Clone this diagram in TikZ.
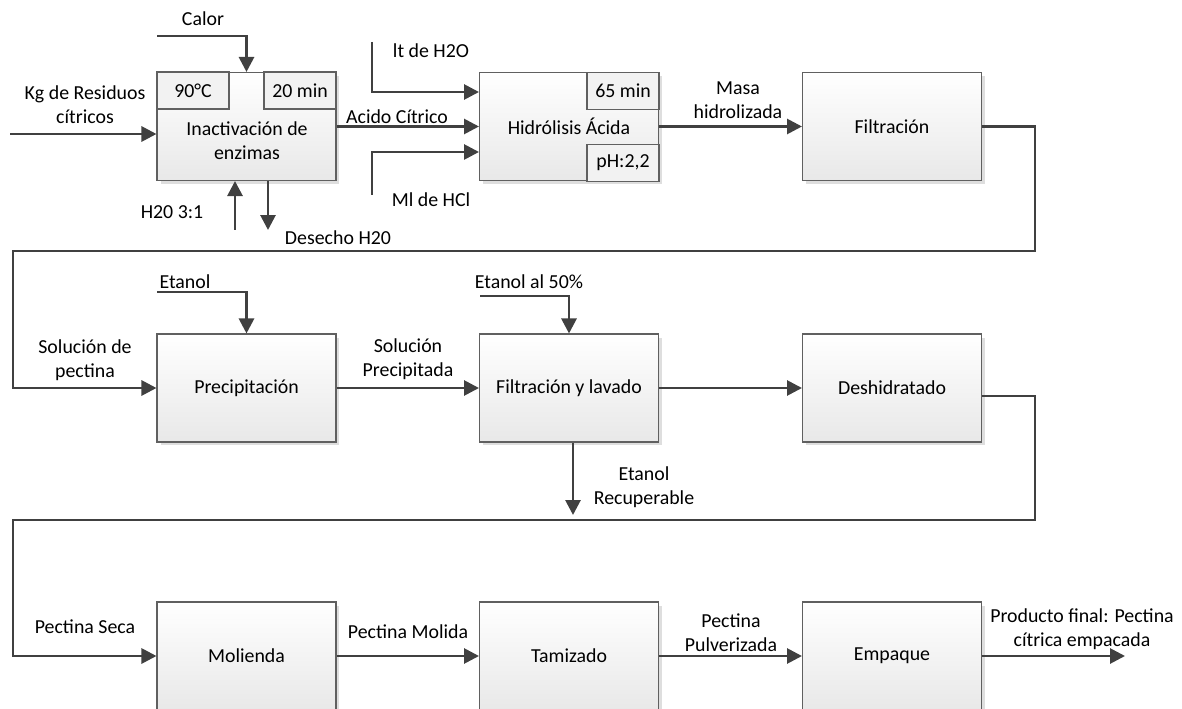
\documentclass[tikz,border=0pt]{standalone}
\usepackage{fontspec}
\setmainfont{Carlito}
\usepackage{tikz}
\usepackage{xcolor}
\usetikzlibrary{arrows.meta,shadows}

\definecolor{trazo}{HTML}{404040}
\definecolor{borde}{HTML}{606060}

\tikzset{
    etapa/.style={draw=borde, line width=0.6pt, top color=white, bottom color=black!9,
        minimum width=3.58cm, minimum height=2.16cm, align=center,
        general shadow={fill=black!13, shadow xshift=0.07cm, shadow yshift=-0.07cm}},
    dato/.style={draw=borde, line width=0.6pt, fill=black!5, inner sep=0pt,
        minimum width=1.44cm, minimum height=0.74cm},
    flujo/.style={draw=trazo, line width=1.6pt, -{Triangle[length=0.3cm,width=0.3cm]}},
    rotulo/.style={align=center, inner sep=0pt},
}

\begin{document}
\begin{tikzpicture}[x=0.02cm, y=-0.02cm, font=\fontsize{11.3}{13.6}\selectfont]
                \clip (0, 0) rectangle (1182, 709);
                % etapas del proceso
                \node[etapa] (inact) at (246.5, 126.5) {};
                \node[etapa] (hidro) at (569, 126.5) {Hidrólisis Ácida};
                \node[etapa] (filtr) at (892, 126.5) {Filtración};
                \node[etapa] (precip) at (246.5, 388) {Precipitación};
                \node[etapa] (filtlav) at (569, 388) {Filtración y lavado};
                \node[etapa] (deshid) at (892, 388) {Deshidratado};
                \node[etapa] (molienda) at (246.5, 656) {Molienda};
                \node[etapa] (tamiz) at (569, 656) {Tamizado};
                \node[etapa] (empaque) at (892, 656) {Empaque};
                \node[rotulo] (inacttxt) at (247, 141) {Inactivación de\\enzimas};
                % condiciones
                \node[dato] (temp) at (193, 90.5) {90°C};
                \node[dato] (tinact) at (300, 90.5) {20 min};
                \node[dato] (thidro) at (623, 91) {65 min};
                \node[dato] (ph) at (623, 163) {pH:2,2};
                % extremos libres
                \coordinate (calor0) at (157, 36);
                \coordinate (resid0) at (10, 134);
                \coordinate (agua0) at (235, 230);
                \coordinate (desecho1) at (268, 230);
                \coordinate (h2o0) at (372, 42);
                \coordinate (hcl0) at (372, 195);
                \coordinate (vuelta1) at (1035, 251);
                \coordinate (vuelta2) at (13, 251);
                \coordinate (etanol0) at (157, 292);
                \coordinate (etanol50) at (480, 296);
                \coordinate (recup) at (573, 515);
                \coordinate (vuelta3) at (1035, 520);
                \coordinate (vuelta4) at (13, 520);
                \coordinate (producto) at (1125, 656);
                % flujos
                \draw[flujo] (calor0) -| (inact.north);
                \draw[flujo] (resid0) -- (resid0 -| inact.west);
                \draw[flujo] (agua0) -- (agua0 |- inact.south);
                \draw[flujo] (desecho1 |- inact.south) -- (desecho1);
                \draw[flujo] (inact.east) -- (hidro.west);
                \draw[flujo] (h2o0) |- ([yshift=0.69cm]hidro.west);
                \draw[flujo] (hcl0) |- ([yshift=-0.51cm]hidro.west);
                \draw[flujo] (hidro.east) -- (filtr.west);
                \draw[flujo] (filtr.east) -| (vuelta1) -- (vuelta2) |- (precip.west);
                \draw[flujo] (etanol0) -| (precip.north);
                \draw[flujo] (precip.east) -- (filtlav.west);
                \draw[flujo] (etanol50) -| (filtlav.north);
                \draw[flujo] (filtlav.east) -- (deshid.west);
                \draw[flujo] (recup |- filtlav.south) -- (recup);
                \draw[flujo] ([yshift=-0.16cm]deshid.east) -| (vuelta3) -- (vuelta4) |- (molienda.west);
                \draw[flujo] (molienda.east) -- (tamiz.west);
                \draw[flujo] (tamiz.east) -- (empaque.west);
                \draw[flujo] (empaque.east) -- (producto);
                % rotulos
                \node[rotulo] (calor) at (203, 19) {Calor};
                \node[rotulo] (resid) at (85, 104.5) {Kg de Residuos\\cítricos};
                \node[rotulo] (agua) at (172, 212) {H20 3:1};
                \node[rotulo] (desecho) at (338, 238) {Desecho H20};
                \node[rotulo] (acido) at (397, 117) {Acido Cítrico};
                \node[rotulo] (h2o) at (431, 51) {lt de H2O};
                \node[rotulo] (hcl) at (431, 200) {Ml de HCl};
                \node[rotulo] (masa) at (738, 100) {Masa\\hidrolizada};
                \node[rotulo] (solpect) at (85, 360.5) {Solución de\\pectina};
                \node[rotulo] (etanol) at (185, 282) {Etanol};
                \node[rotulo] (solprec) at (408, 359) {Solución\\Precipitada};
                \node[rotulo] (etanolmed) at (529, 282) {Etanol al 50\%};
                \node[rotulo] (etanolrec) at (644, 487) {Etanol\\Recuperable};
                \node[rotulo] (seca) at (85, 627) {Pectina Seca};
                \node[rotulo] (molida) at (408, 632) {Pectina Molida};
                \node[rotulo] (pulver) at (731, 632.5) {Pectina\\Pulverizada};
                \node[rotulo] (final) at (1082, 629.5) {Producto final: Pectina\\cítrica empacada};
            \end{tikzpicture}
\end{document}
